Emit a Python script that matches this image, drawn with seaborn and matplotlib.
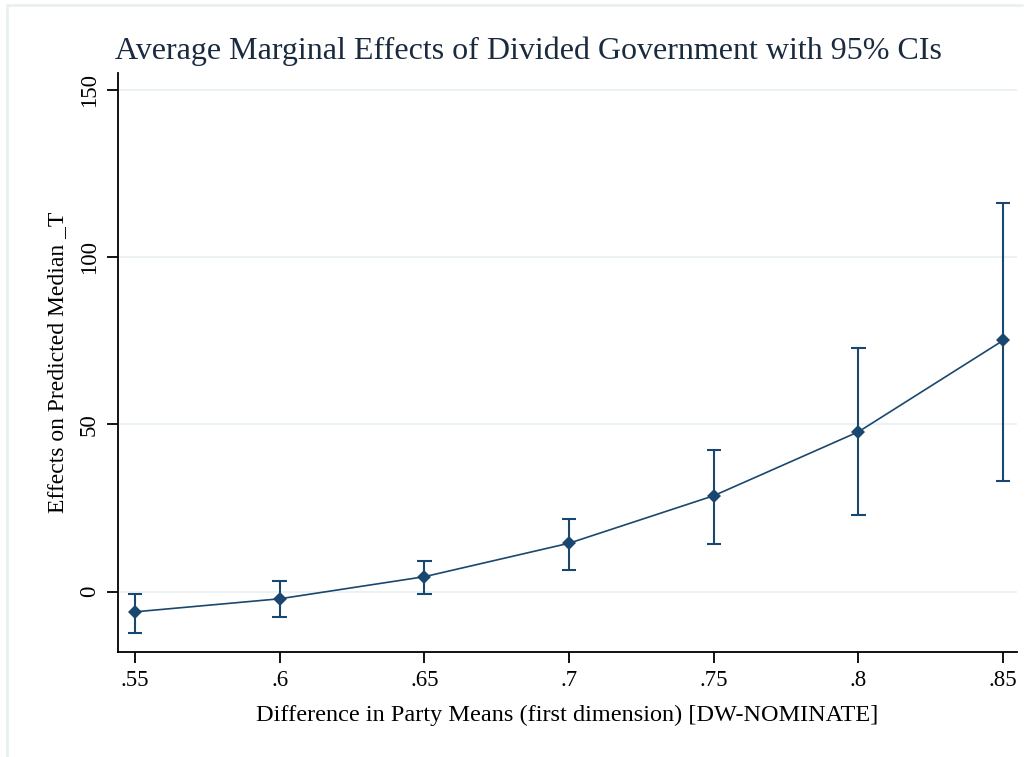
import numpy as np
import pandas as pd
import seaborn as sns
import matplotlib.pyplot as plt
from matplotlib.lines import Line2D

# values
party_diff = [0.55, 0.60, 0.65, 0.70, 0.75, 0.80, 0.85]
effect = [-6.0, -2.1, 4.5, 14.5, 28.7, 47.8, 75.1]
ci_low = [-12.3, -7.5, -0.6, 6.6, 14.2, 22.9, 33.2]
ci_high = [-0.6, 3.3, 9.3, 21.7, 42.5, 72.7, 116.3]
x_ticks = [0.55, 0.60, 0.65, 0.70, 0.75, 0.80, 0.85]
x_tick_labels = [".55", ".6", ".65", ".7", ".75", ".8", ".85"]
y_ticks = [0, 50, 100, 150]

navy = "#1a476f"

df = pd.DataFrame({"x": party_diff, "y": effect, "lo": ci_low, "hi": ci_high})

sns.set_theme(style="white")
plt.rcParams["font.family"] = ["Liberation Serif", "DejaVu Serif"]

fig = plt.figure(figsize=(10.32, 7.57), dpi=100)
ax = fig.add_axes([0.1143, 0.1387, 0.8712, 0.7649])

for y in y_ticks:
    ax.axhline(y, color="#e8f0f2", lw=1.2, zorder=0)

ax.vlines(df["x"], df["lo"], df["hi"], color=navy, lw=1.5, zorder=2)
ax.hlines(df["lo"], df["x"] - 0.0025, df["x"] + 0.0025, color=navy, lw=1.5, zorder=2)
ax.hlines(df["hi"], df["x"] - 0.0025, df["x"] + 0.0025, color=navy, lw=1.5, zorder=2)

sns.lineplot(data=df, x="x", y="y", ax=ax, color=navy, lw=1.2, marker="D",
             markersize=7, markeredgewidth=0, zorder=3)

ax.set_xlim(0.5441, 0.8548)
ax.set_ylim(-18, 155)
ax.set_xticks(x_ticks)
ax.set_xticklabels(x_tick_labels)
ax.set_yticks(y_ticks)
ax.set_yticklabels([str(v) for v in y_ticks], rotation=90, va="center")

ax.tick_params(axis="both", which="both", direction="out", length=8, width=1.3,
               color="black", labelsize=16.5, pad=5, labelcolor="black",
               left=True, bottom=True)
for side in ["top", "right"]:
    ax.spines[side].set_visible(False)
for side in ["left", "bottom"]:
    ax.spines[side].set_color("black")
    ax.spines[side].set_linewidth(1.3)

ax.set_xlabel("Difference in Party Means (first dimension) [DW-NOMINATE]",
              fontsize=17.5, color="black", labelpad=10)
ax.set_ylabel("Effects on Predicted Median _T", fontsize=17, color="black",
              labelpad=8)
fig.text(0.1115, 0.922, "Average Marginal Effects of Divided Government with 95% CIs",
         fontsize=23, color="#1a2a3f", ha="left", va="baseline")

# faint frame of the original export
fig.add_artist(Line2D([0.007, 0.99], [0.993, 0.993], color="#e8f0f2", lw=2,
                      transform=fig.transFigure))
fig.add_artist(Line2D([0.007, 0.007], [0.0, 0.993], color="#e8f0f2", lw=2,
                      transform=fig.transFigure))

fig.savefig("out.png", dpi=100)
